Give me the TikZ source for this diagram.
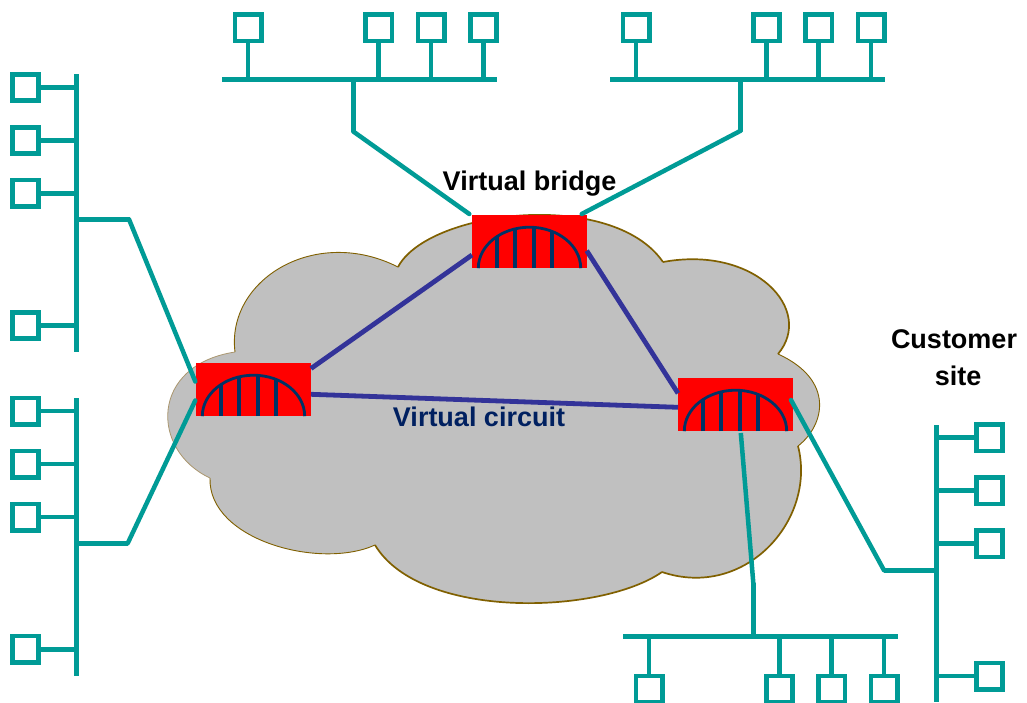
\documentclass[tikz,border=0pt]{standalone}
\usepackage{fontspec}
\setmainfont{Liberation Sans}
\definecolor{teal}{RGB}{0,155,150}
\definecolor{vc}{RGB}{51,51,153}
\definecolor{navy}{RGB}{0,51,102}
\definecolor{label}{RGB}{0,32,96}
\definecolor{cloudline}{RGB}{128,96,0}
\definecolor{cloudfaint}{RGB}{170,150,110}
\definecolor{cloudfill}{RGB}{192,192,192}
\begin{document}
\begin{tikzpicture}[x=1pt,y=-1pt,
  bus/.style={teal,line width=4.8pt},
  slant/.style={teal,line width=4.5pt,line cap=round},
  link/.style={vc,line width=4.8pt},
  station/.style={draw=teal,line width=4.7pt,fill=white,minimum size=26.3pt,inner sep=0pt,rectangle},
  bridgebox/.style={fill=red,minimum width=115pt,minimum height=53pt,inner sep=0pt,rectangle},
  archline/.style={navy,line width=2.8pt},
  cloudthin/.style={cloudline,line width=0.9pt},
  cloudthick/.style={cloudline,line width=1.7pt},
  txt/.style={font=\fontsize{27}{27}\selectfont\bfseries,inner sep=0pt,anchor=base}]
\clip (0,0) rectangle (1027,702);
% cloud
\fill[white] (0,0) rectangle (1027,702);
\fill[cloudfill]
  (235,352) .. controls (226,280) and (315,225) .. (398,267)
  .. controls (428,210) and (612,188) .. (663,262)
  .. controls (755,245) and (815,310) .. (778,354)
  .. controls (835,380) and (825,425) .. (798,446)
  .. controls (817,520) and (745,600) .. (662,572)
  .. controls (600,615) and (420,620) .. (375,545)
  .. controls (320,570) and (208,540) .. (210,478)
  .. controls (150,450) and (150,365) .. (235,352) -- cycle;
\draw[cloudthin] (235,352) .. controls (226,280) and (315,225) .. (398,267);
\draw[cloudthick] (398,267) .. controls (428,210) and (612,188) .. (663,262);
\draw[cloudthick] (663,262) .. controls (755,245) and (815,310) .. (778,354);
\draw[cloudthin] (778,354) .. controls (835,380) and (825,425) .. (798,446);
\draw[cloudthick] (798,446) .. controls (817,520) and (745,600) .. (662,572);
\draw[cloudthick] (662,572) .. controls (600,615) and (420,620) .. (375,545);
\draw[cloudthin] (375,545) .. controls (320,570) and (208,540) .. (210,478);
\draw[cloudfaint,line width=0.8pt] (210,478) .. controls (150,450) and (150,365) .. (235,352);
% bridges
\node[bridgebox] (bl) at (253.5,389.5) {};
\node[bridgebox] (bt) at (529.5,241.5) {};
\node[bridgebox] (br) at (735.5,404.5) {};
\foreach \b in {bl,bt,br}{
  \draw[archline] ([xshift=-51.2pt]\b.south) arc[start angle=180,end angle=0,x radius=51.2pt,y radius=41pt];
  \foreach \dx/\dy in {-32.5/31.6,-14.5/39.3,4.5/40.8,22.5/36.8}
    \draw[archline,line width=3.3pt] ([xshift=\dx pt]\b.south) -- ([xshift=\dx pt,yshift=\dy pt]\b.south);
}
% virtual circuits
\coordinate (blA) at (311,368.5);
\coordinate (btA) at (472,255);
\coordinate (btB) at (586.7,250.7);
\coordinate (brB) at (678,393.3);
\coordinate (blC) at (311,394.3);
\coordinate (brC) at (678,407.3);
\draw[link] (blA) -- (btA);
\draw[link] (btB) -- (brB);
\draw[link] (blC) -- (brC);
% left upper LAN
\coordinate (lu1) at (76.5,74);
\coordinate (lu2) at (76.5,352);
\draw[bus] (lu1) -- (lu2);
\foreach \n/\y in {a/87.5,b/140.4,c/193.2,d/325.6}{
  \node[station] (lu\n) at (25.5,\y) {};
  \draw[bus] (lu\n.east) -- (lu\n -| lu1);
}
\coordinate (luj) at (76.5,219.3);
\coordinate (luk) at (129,219.3);
\coordinate (lue) at (195.3,381.5);
\draw[bus] (luj) -- (luk);
\draw[slant] (luk) -- (lue);
% left lower LAN
\coordinate (ll1) at (76.5,398);
\coordinate (ll2) at (76.5,676);
\draw[bus] (ll1) -- (ll2);
\foreach \n/\y in {a/411,b/464,c/517,d/649.2}{
  \node[station] (ll\n) at (25.5,\y) {};
  \draw[bus] (ll\n.east) -- (ll\n -| ll1);
}
\coordinate (llj) at (76.5,543.3);
\coordinate (llk) at (127.7,543.3);
\coordinate (lle) at (195.3,400.5);
\draw[bus] (llj) -- (llk);
\draw[slant] (llk) -- (lle);
% top left LAN
\coordinate (ta1) at (222,79.5);
\coordinate (ta2) at (497,79.5);
\draw[bus] (ta1) -- (ta2);
\foreach \n/\x in {a/248,b/378.8,c/431,d/483.3}{
  \node[station] (ta\n) at (\x,27.7) {};
  \draw[bus] (ta\n.south) -- (ta\n |- ta1);
}
\coordinate (taj) at (353.3,79.5);
\coordinate (tak) at (353.3,131.5);
\coordinate (tae) at (469.3,214);
\draw[bus] (taj) -- (tak);
\draw[slant] (tak) -- (tae);
% top right LAN
\coordinate (tb1) at (610,79.5);
\coordinate (tb2) at (885,79.5);
\draw[bus] (tb1) -- (tb2);
\foreach \n/\x in {a/636,b/766.5,c/818.8,d/871}{
  \node[station] (tb\n) at (\x,27.7) {};
  \draw[bus] (tb\n.south) -- (tb\n |- tb1);
}
\coordinate (tbj) at (740.7,79.5);
\coordinate (tbk) at (740.7,130.7);
\coordinate (tbe) at (581.7,214);
\draw[bus] (tbj) -- (tbk);
\draw[slant] (tbk) -- (tbe);
% bottom LAN
\coordinate (bb1) at (623,636.5);
\coordinate (bb2) at (898,636.5);
\draw[bus] (bb1) -- (bb2);
\foreach \n/\x in {a/649,b/779.5,c/831.7,d/884}{
  \node[station] (bb\n) at (\x,689) {};
  \draw[bus] (bb\n.north) -- (bb\n |- bb1);
}
\coordinate (bbj) at (753.3,636.5);
\coordinate (bbk) at (753.3,583);
\coordinate (bbe) at (740.8,433);
\draw[bus] (bbj) -- (bbk);
\draw[slant,line cap=butt] (bbk) -- (bbe);
% right LAN
\coordinate (rr1) at (936.5,425);
\coordinate (rr2) at (936.5,702);
\draw[bus] (rr1) -- (rr2);
\foreach \n/\y in {a/437.7,b/490.7,c/543.7,d/676}{
  \node[station] (rr\n) at (989.3,\y) {};
  \draw[bus] (rr\n.west) -- (rr\n -| rr1);
}
\coordinate (rrj) at (936.5,570.3);
\coordinate (rrk) at (884,570.3);
\coordinate (rre) at (791,400);
\draw[bus] (rrj) -- (rrk);
\draw[slant] (rrk) -- (rre);
% labels
\node[txt] (t1) at (529.5,190) {Virtual bridge};
\node[txt,text=label] (t2) at (479,426.7) {Virtual circuit};
\node[txt] (t3) at (954,348) {Customer};
\node[txt] (t4) at (958,385.7) {site};
\end{tikzpicture}
\end{document}
